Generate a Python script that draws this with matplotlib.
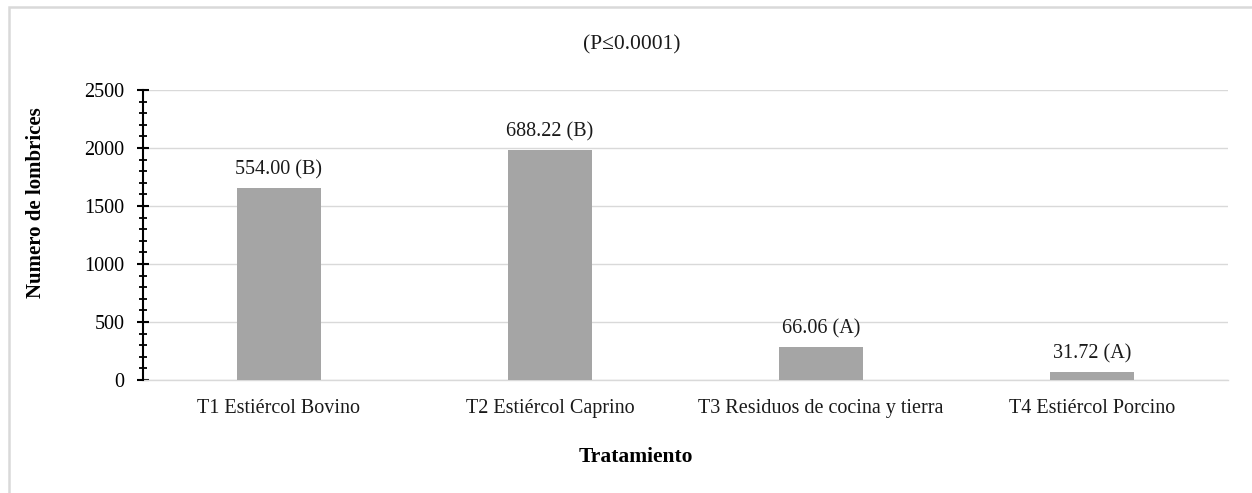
import matplotlib
matplotlib.use("Agg")
import matplotlib.pyplot as plt
from matplotlib.ticker import MultipleLocator
from matplotlib.patches import Rectangle

categories = ["T1 Estiércol Bovino", "T2 Estiércol Caprino",
              "T3 Residuos de cocina y tierra", "T4 Estiércol Porcino"]
values = [1655, 1985, 285, 72]
value_labels = ["554.00 (B)", "688.22 (B)", "66.06 (A)", "31.72 (A)"]
yticks = [0, 500, 1000, 1500, 2000, 2500]

plt.rcParams['font.family'] = ['Liberation Serif', 'DejaVu Serif']
FS = 14.5

fig = plt.figure(figsize=(12.52, 4.93), dpi=100)
fig.patches.append(Rectangle((9/1252, -0.1), 1.2, (493-7)/493 + 0.1,
                             transform=fig.transFigure, fill=False,
                             edgecolor='#d9d9d9', linewidth=1.8))

ax = fig.add_axes([143/1252, 113/493, (1228-143)/1252, (380-90)/493])
x = range(len(categories))
bars = ax.bar(x, values, width=0.31, color='#a5a5a5', zorder=3)
for b, lab in zip(bars, value_labels):
    ax.annotate(lab, (b.get_x() + b.get_width()/2, b.get_height()),
                xytext=(0, 6), textcoords='offset points',
                ha='center', va='bottom', fontsize=FS, color='#1a1a1a')

ax.set_xlim(-0.5, len(categories) - 0.5)
ax.set_ylim(0, 2500)
ax.set_yticks(yticks)
ax.yaxis.set_minor_locator(MultipleLocator(100))
ax.set_xticks(list(x))
ax.set_xticklabels(categories, fontsize=FS, color='#1a1a1a')
ax.tick_params(axis='x', length=0, pad=14)
ax.tick_params(axis='y', which='major', direction='inout', length=9, width=1.5,
               labelsize=FS, pad=9, colors='black')
ax.tick_params(axis='y', which='minor', direction='inout', length=5.5, width=1.3)
ax.grid(axis='y', color='#d9d9d9', linewidth=1, zorder=0)
for s in ['top', 'right']:
    ax.spines[s].set_visible(False)
ax.spines['bottom'].set_color('#d9d9d9')
ax.spines['bottom'].set_linewidth(1)
ax.spines['left'].set_color('black')
ax.spines['left'].set_linewidth(1.5)
ax.spines['left'].set_zorder(4)

fig.text(36/1252, 1 - 203/493, "Numero de lombrices", rotation=90,
         ha='center', va='center', fontsize=15, fontweight='bold')
fig.text(632/1252, 1 - 45/493, "(P≤0.0001)", ha='center', va='center',
         fontsize=FS + 1, color='#1a1a1a')
fig.text(636/1252, 1 - 457/493, "Tratamiento", ha='center', va='center',
         fontsize=15.5, fontweight='bold')

fig.savefig("out.png", dpi=100)
